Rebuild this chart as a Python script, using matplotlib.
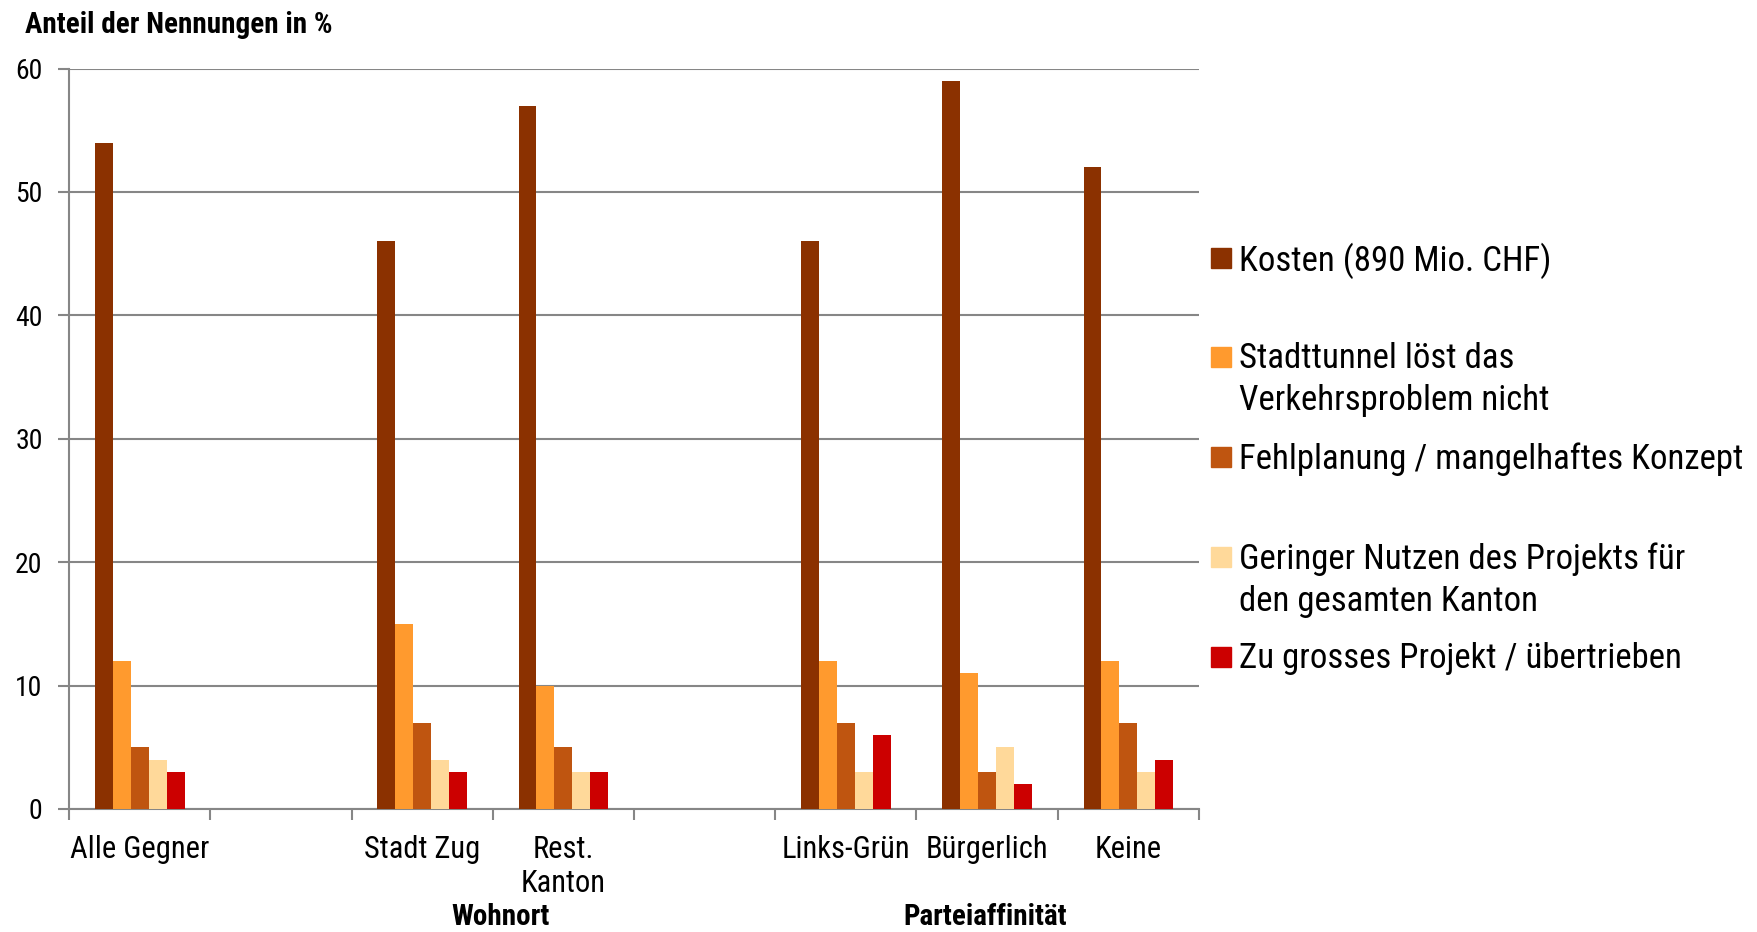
import numpy as np
import matplotlib
matplotlib.use('Agg')
import matplotlib.pyplot as plt
from matplotlib.patches import Rectangle

plt.rcParams['font.family'] = ['Roboto Condensed', 'DejaVu Sans']

# Kategorien (leere Felder = Abstand zwischen den Gruppen)
kategorien = ['Alle Gegner', '', 'Stadt Zug', 'Rest.\nKanton', '', 'Links-Grün', 'Bürgerlich', 'Keine']

serien = ['Kosten (890 Mio. CHF)',
          'Stadttunnel löst das\nVerkehrsproblem nicht',
          'Fehlplanung / mangelhaftes Konzept',
          'Geringer Nutzen des Projekts für\nden gesamten Kanton',
          'Zu grosses Projekt / übertrieben']
farben = ['#8B3100', '#FF9A2E', '#BF5510', '#FFD99A', '#CC0000']

nan = np.nan
kosten      = [54, nan, 46, 57, nan, 46, 59, 52]
stadttunnel = [12, nan, 15, 10, nan, 12, 11, 12]
fehlplanung = [5,  nan, 7,  5,  nan, 7,  3,  7]
nutzen      = [4,  nan, 4,  3,  nan, 3,  5,  3]
zu_gross    = [3,  nan, 3,  3,  nan, 6,  2,  4]
werte = [kosten, stadttunnel, fehlplanung, nutzen, zu_gross]

fig = plt.figure(figsize=(17.57, 9.32), dpi=100)
ax = fig.add_axes([0.0393, 0.132, 0.6431, 0.7945])

x = np.arange(len(kategorien))
breite = 0.127
for i, (vals, col) in enumerate(zip(werte, farben)):
    ax.bar(x + (i - 2) * breite, vals, breite, color=col, zorder=3)

grau = '#868686'
ax.set_ylim(0, 60)
ax.set_xlim(-0.5, len(kategorien) - 0.5)
ax.set_yticks(range(0, 61, 10))
ax.grid(axis='y', color=grau, linewidth=1.5, zorder=0)
ax.set_xticks(np.arange(len(kategorien) + 1) - 0.5)
ax.set_xticklabels([])
ax.set_xticks(x, kategorien, minor=True)
ax.tick_params(axis='x', which='major', length=8, width=1.5, color=grau, direction='out')
ax.tick_params(axis='x', which='minor', length=0, pad=19, labelsize=22)
ax.tick_params(axis='y', length=8, width=1.5, color=grau, pad=11, labelsize=20)
for lab in ax.get_xticklabels(minor=True):
    lab.set_linespacing(1.2)
for s in ['top', 'right']:
    ax.spines[s].set_visible(False)
for s in ['left', 'bottom']:
    ax.spines[s].set_color(grau)
    ax.spines[s].set_linewidth(1.5)

fig.text(25 / 1757, 1 - 25 / 932, 'Anteil der Nennungen in %', fontsize=21,
         fontweight='bold', va='center', ha='left')
fig.text(501 / 1757, 1 - 917 / 932, 'Wohnort', fontsize=21, fontweight='bold',
         va='center', ha='center')
fig.text(985 / 1757, 1 - 917 / 932, 'Parteiaffinität', fontsize=21, fontweight='bold',
         va='center', ha='center')

# Legende von Hand, Kästchen jeweils auf Höhe der ersten Zeile
leg_y = [258, 357, 457, 557, 657]
for lab, col, yy in zip(serien, farben, leg_y):
    fig.patches.append(Rectangle((1211 / 1757, 1 - (yy + 10) / 932), 20 / 1757, 20 / 932,
                                 transform=fig.transFigure, color=col))
    fig.text(1239 / 1757, 1 - (yy - 15) / 932, lab, fontsize=25, va='top', ha='left',
             linespacing=1.35)

fig.savefig('out.png', dpi=100)
